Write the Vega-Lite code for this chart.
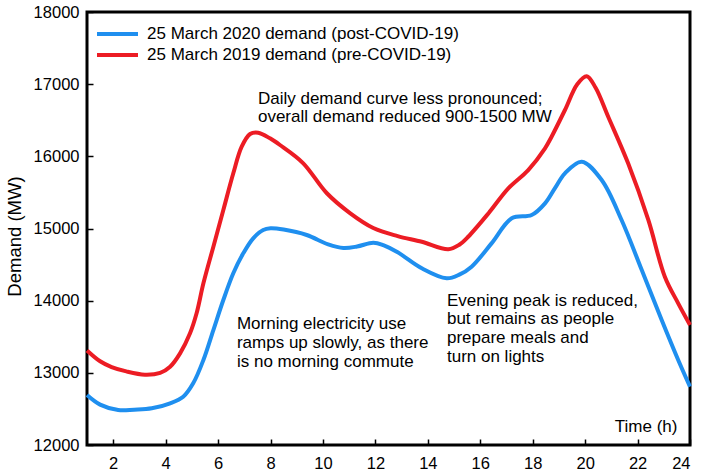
{
  "$schema": "https://vega.github.io/schema/vega-lite/v6.json",
  "width": 603,
  "height": 433,
  "autosize": {"type": "none"},
  "padding": {"left": 87, "top": 12, "right": 14, "bottom": 28},
  "background": "white",
  "config": {
    "font": "Liberation Sans",
    "view": {"stroke": "#000", "strokeWidth": 3},
    "axis": {
      "domain": false,
      "grid": false,
      "labelFont": "Liberation Sans",
      "labelFontSize": 16.5,
      "labelColor": "#000",
      "tickColor": "#000",
      "tickWidth": 1.5,
      "tickSize": -6,
      "titleFont": "Liberation Sans",
      "titleFontSize": 17,
      "titleFontWeight": "normal",
      "titleColor": "#000"
    }
  },
  "datasets": {
    "demand": [
      {"hour": 1.0, "mw": 13310, "series": "25 March 2019 demand (pre-COVID-19)"},
      {"hour": 1.5, "mw": 13160, "series": "25 March 2019 demand (pre-COVID-19)"},
      {"hour": 1.94, "mw": 13080, "series": "25 March 2019 demand (pre-COVID-19)"},
      {"hour": 2.5, "mw": 13020, "series": "25 March 2019 demand (pre-COVID-19)"},
      {"hour": 3.21, "mw": 12975, "series": "25 March 2019 demand (pre-COVID-19)"},
      {"hour": 3.79, "mw": 13000, "series": "25 March 2019 demand (pre-COVID-19)"},
      {"hour": 4.17, "mw": 13085, "series": "25 March 2019 demand (pre-COVID-19)"},
      {"hour": 4.55, "mw": 13270, "series": "25 March 2019 demand (pre-COVID-19)"},
      {"hour": 4.93, "mw": 13548, "series": "25 March 2019 demand (pre-COVID-19)"},
      {"hour": 5.18, "mw": 13825, "series": "25 March 2019 demand (pre-COVID-19)"},
      {"hour": 5.44, "mw": 14240, "series": "25 March 2019 demand (pre-COVID-19)"},
      {"hour": 5.82, "mw": 14748, "series": "25 March 2019 demand (pre-COVID-19)"},
      {"hour": 6.2, "mw": 15256, "series": "25 March 2019 demand (pre-COVID-19)"},
      {"hour": 6.58, "mw": 15765, "series": "25 March 2019 demand (pre-COVID-19)"},
      {"hour": 6.9, "mw": 16133, "series": "25 March 2019 demand (pre-COVID-19)"},
      {"hour": 7.22, "mw": 16309, "series": "25 March 2019 demand (pre-COVID-19)"},
      {"hour": 7.53, "mw": 16327, "series": "25 March 2019 demand (pre-COVID-19)"},
      {"hour": 7.98, "mw": 16249, "series": "25 March 2019 demand (pre-COVID-19)"},
      {"hour": 8.36, "mw": 16157, "series": "25 March 2019 demand (pre-COVID-19)"},
      {"hour": 9.24, "mw": 15907, "series": "25 March 2019 demand (pre-COVID-19)"},
      {"hour": 10.14, "mw": 15492, "series": "25 March 2019 demand (pre-COVID-19)"},
      {"hour": 11.03, "mw": 15214, "series": "25 March 2019 demand (pre-COVID-19)"},
      {"hour": 11.92, "mw": 15007, "series": "25 March 2019 demand (pre-COVID-19)"},
      {"hour": 12.85, "mw": 14895, "series": "25 March 2019 demand (pre-COVID-19)"},
      {"hour": 13.77, "mw": 14817, "series": "25 March 2019 demand (pre-COVID-19)"},
      {"hour": 14.78, "mw": 14712, "series": "25 March 2019 demand (pre-COVID-19)"},
      {"hour": 15.2, "mw": 14775, "series": "25 March 2019 demand (pre-COVID-19)"},
      {"hour": 15.54, "mw": 14886, "series": "25 March 2019 demand (pre-COVID-19)"},
      {"hour": 16.31, "mw": 15209, "series": "25 March 2019 demand (pre-COVID-19)"},
      {"hour": 17.07, "mw": 15556, "series": "25 March 2019 demand (pre-COVID-19)"},
      {"hour": 17.83, "mw": 15810, "series": "25 March 2019 demand (pre-COVID-19)"},
      {"hour": 18.47, "mw": 16111, "series": "25 March 2019 demand (pre-COVID-19)"},
      {"hour": 18.72, "mw": 16272, "series": "25 March 2019 demand (pre-COVID-19)"},
      {"hour": 19.23, "mw": 16642, "series": "25 March 2019 demand (pre-COVID-19)"},
      {"hour": 19.7, "mw": 17000, "series": "25 March 2019 demand (pre-COVID-19)"},
      {"hour": 20.06, "mw": 17110, "series": "25 March 2019 demand (pre-COVID-19)"},
      {"hour": 20.4, "mw": 16950, "series": "25 March 2019 demand (pre-COVID-19)"},
      {"hour": 20.88, "mw": 16549, "series": "25 March 2019 demand (pre-COVID-19)"},
      {"hour": 21.64, "mw": 15903, "series": "25 March 2019 demand (pre-COVID-19)"},
      {"hour": 22.41, "mw": 15118, "series": "25 March 2019 demand (pre-COVID-19)"},
      {"hour": 23.04, "mw": 14332, "series": "25 March 2019 demand (pre-COVID-19)"},
      {"hour": 23.55, "mw": 13963, "series": "25 March 2019 demand (pre-COVID-19)"},
      {"hour": 24.0, "mw": 13663, "series": "25 March 2019 demand (pre-COVID-19)"},
      {"hour": 1.0, "mw": 12693, "series": "25 March 2020 demand (post-COVID-19)"},
      {"hour": 1.5, "mw": 12560, "series": "25 March 2020 demand (post-COVID-19)"},
      {"hour": 2.19, "mw": 12485, "series": "25 March 2020 demand (post-COVID-19)"},
      {"hour": 2.8, "mw": 12490, "series": "25 March 2020 demand (post-COVID-19)"},
      {"hour": 3.47, "mw": 12508, "series": "25 March 2020 demand (post-COVID-19)"},
      {"hour": 4.17, "mw": 12578, "series": "25 March 2020 demand (post-COVID-19)"},
      {"hour": 4.67, "mw": 12669, "series": "25 March 2020 demand (post-COVID-19)"},
      {"hour": 5.05, "mw": 12855, "series": "25 March 2020 demand (post-COVID-19)"},
      {"hour": 5.44, "mw": 13178, "series": "25 March 2020 demand (post-COVID-19)"},
      {"hour": 5.82, "mw": 13593, "series": "25 March 2020 demand (post-COVID-19)"},
      {"hour": 6.2, "mw": 14009, "series": "25 March 2020 demand (post-COVID-19)"},
      {"hour": 6.58, "mw": 14379, "series": "25 March 2020 demand (post-COVID-19)"},
      {"hour": 6.96, "mw": 14656, "series": "25 March 2020 demand (post-COVID-19)"},
      {"hour": 7.34, "mw": 14864, "series": "25 March 2020 demand (post-COVID-19)"},
      {"hour": 7.72, "mw": 14979, "series": "25 March 2020 demand (post-COVID-19)"},
      {"hour": 8.0, "mw": 15003, "series": "25 March 2020 demand (post-COVID-19)"},
      {"hour": 8.5, "mw": 14985, "series": "25 March 2020 demand (post-COVID-19)"},
      {"hour": 9.38, "mw": 14910, "series": "25 March 2020 demand (post-COVID-19)"},
      {"hour": 10.2, "mw": 14780, "series": "25 March 2020 demand (post-COVID-19)"},
      {"hour": 10.78, "mw": 14730, "series": "25 March 2020 demand (post-COVID-19)"},
      {"hour": 11.3, "mw": 14750, "series": "25 March 2020 demand (post-COVID-19)"},
      {"hour": 11.92, "mw": 14803, "series": "25 March 2020 demand (post-COVID-19)"},
      {"hour": 12.3, "mw": 14770, "series": "25 March 2020 demand (post-COVID-19)"},
      {"hour": 12.85, "mw": 14670, "series": "25 March 2020 demand (post-COVID-19)"},
      {"hour": 13.77, "mw": 14448, "series": "25 March 2020 demand (post-COVID-19)"},
      {"hour": 14.72, "mw": 14310, "series": "25 March 2020 demand (post-COVID-19)"},
      {"hour": 15.2, "mw": 14360, "series": "25 March 2020 demand (post-COVID-19)"},
      {"hour": 15.67, "mw": 14471, "series": "25 March 2020 demand (post-COVID-19)"},
      {"hour": 16.43, "mw": 14794, "series": "25 March 2020 demand (post-COVID-19)"},
      {"hour": 17.2, "mw": 15141, "series": "25 March 2020 demand (post-COVID-19)"},
      {"hour": 17.96, "mw": 15187, "series": "25 March 2020 demand (post-COVID-19)"},
      {"hour": 18.47, "mw": 15349, "series": "25 March 2020 demand (post-COVID-19)"},
      {"hour": 18.85, "mw": 15560, "series": "25 March 2020 demand (post-COVID-19)"},
      {"hour": 19.23, "mw": 15765, "series": "25 March 2020 demand (post-COVID-19)"},
      {"hour": 19.87, "mw": 15926, "series": "25 March 2020 demand (post-COVID-19)"},
      {"hour": 20.63, "mw": 15672, "series": "25 March 2020 demand (post-COVID-19)"},
      {"hour": 21.39, "mw": 15118, "series": "25 March 2020 demand (post-COVID-19)"},
      {"hour": 22.16, "mw": 14425, "series": "25 March 2020 demand (post-COVID-19)"},
      {"hour": 22.92, "mw": 13732, "series": "25 March 2020 demand (post-COVID-19)"},
      {"hour": 23.55, "mw": 13178, "series": "25 March 2020 demand (post-COVID-19)"},
      {"hour": 24.0, "mw": 12808, "series": "25 March 2020 demand (post-COVID-19)"}
    ],
    "notes": [
      {"hour": 7.52, "mw": 16732, "note": "Daily demand curve less pronounced;\noverall demand reduced 900-1500 MW"},
      {"hour": 6.72, "mw": 13607, "note": "Morning electricity use\nramps up slowly, as there\nis no morning commute"},
      {"hour": 14.73, "mw": 13933, "note": "Evening peak is reduced,\nbut remains as people\nprepare meals and\nturn on lights"}
    ]
  },
  "layer": [
    {
      "data": {"name": "demand"},
      "mark": {"type": "line", "interpolate": "catmull-rom", "strokeWidth": 4},
      "encoding": {
        "x": {
          "field": "hour", "type": "quantitative",
          "scale": {"domain": [1, 24], "nice": false, "zero": false},
          "axis": {
            "values": [2, 4, 6, 8, 10, 12, 14, 16, 18, 20, 22, 24],
            "title": "Time (h)",
            "titleAlign": "right",
            "titleAnchor": null,
            "titleBaseline": "alphabetic",
            "titleX": 590,
            "titleY": -14,
            "labelPadding": 16
          }
        },
        "y": {
          "field": "mw", "type": "quantitative",
          "scale": {"domain": [12000, 18000], "nice": false, "zero": false},
          "axis": {
            "values": [12000, 13000, 14000, 15000, 16000, 17000, 18000],
            "format": "d",
            "title": "Demand (MW)",
            "titleFontSize": 18.5,
            "titleAngle": -90,
            "titleAlign": "center",
            "titleBaseline": "middle",
            "titleX": -73,
            "titleY": 224,
            "labelPadding": 14
          }
        },
        "color": {
          "field": "series", "type": "nominal",
          "scale": {
            "domain": ["25 March 2020 demand (post-COVID-19)", "25 March 2019 demand (pre-COVID-19)"],
            "range": ["#1f8fef", "#ec1c24"]
          },
          "legend": {
            "orient": "none",
            "legendX": 18,
            "legendY": 9.5,
            "title": null,
            "padding": 0,
            "symbolType": "M-2,0H2",
            "symbolSize": 420,
            "symbolStrokeWidth": 4,
            "symbolFillColor": "transparent",
            "labelFont": "Liberation Sans",
            "labelFontSize": 17,
            "labelColor": "#000",
            "labelLimit": 0,
            "labelOffset": 17,
            "rowPadding": 0
          }
        }
      }
    },
    {
      "data": {"name": "notes"},
      "mark": {"type": "text", "align": "left", "baseline": "alphabetic", "fontSize": 17, "lineHeight": 18.8, "lineBreak": "\n", "color": "#000", "font": "Liberation Sans"},
      "encoding": {
        "x": {"field": "hour", "type": "quantitative"},
        "y": {"field": "mw", "type": "quantitative"},
        "text": {"field": "note", "type": "nominal"}
      }
    }
  ]
}
